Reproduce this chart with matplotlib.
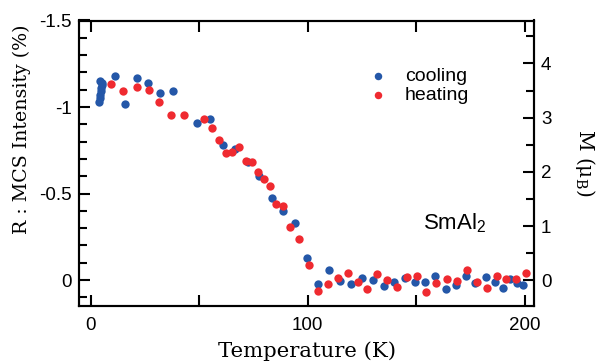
import matplotlib
matplotlib.use("Agg")
import matplotlib.pyplot as plt
from matplotlib.ticker import MultipleLocator

# ---- data ----
T_cool = [4.0, 4.2, 4.4, 4.6, 4.8, 5.0, 4.5, 5.2, 11.3, 15.9, 21.2, 26.5, 31.9, 38.1,
          49.1, 55.0, 60.8, 66.5, 72.6, 77.4, 83.4, 88.8, 94.3, 99.5,
          104.9, 110.0, 114.9, 119.8, 125.2, 130.0, 135.2, 139.9, 144.8, 149.4,
          154.0, 158.7, 163.6, 168.2, 172.9, 177.1, 182.0, 186.3, 190.1, 193.2,
          196.6, 199.4]
R_cool = [-1.03, -1.05, -1.07, -1.09, -1.11, -1.13, -1.15, -1.14, -1.18, -1.02, -1.17, -1.14, -1.08, -1.09,
          -0.91, -0.93, -0.78, -0.757, -0.68, -0.60, -0.476, -0.40, -0.33, -0.129,
          0.023, -0.058, 0.004, 0.023, -0.01, 0.0, 0.033, 0.013, -0.013, 0.01,
          0.01, -0.025, 0.054, 0.029, -0.023, 0.019, -0.019, 0.013, 0.048, -0.006,
          0.019, 0.029]

T_heat = [9.2, 15.0, 21.5, 27.0, 31.5, 37.0, 43.0, 52.4, 55.8, 59.1, 62.2, 65.3, 68.3,
          71.4, 74.5, 77.0, 80.0, 82.6, 85.4, 88.5, 91.8, 95.9, 100.7,
          104.9, 109.5, 113.8, 118.4, 123.0, 127.5, 132.1, 136.4, 141.0, 145.6,
          150.2, 154.5, 159.1, 164.0, 168.7, 173.3, 177.9, 182.5, 187.1, 191.4,
          196.0, 200.6]
R_heat = [-1.133, -1.094, -1.117, -1.098, -1.027, -0.954, -0.954, -0.93, -0.877, -0.81, -0.732, -0.738, -0.77,
          -0.69, -0.68, -0.626, -0.584, -0.545, -0.437, -0.428, -0.305, -0.237, -0.087,
          0.062, 0.025, -0.01, -0.039, 0.01, 0.054, -0.033, 0.0, 0.042, -0.015,
          -0.023, 0.067, 0.019, -0.006, 0.006, -0.058, 0.01, 0.048, -0.023, -0.006,
          -0.006, -0.039]

x_ticks = [0, 50, 100, 150, 200]
x_ticklabels = ["0", "", "100", "", "200"]
left_ticks = [-1.5, -1.0, -0.5, 0.0]
left_ticklabels = ["-1.5", "-1", "-0.5", "0"]
right_ticks = [0, 1, 2, 3, 4]
right_ticklabels = ["0", "1", "2", "3", "4"]

BLUE = "#2457a8"
RED = "#ef2a30"

plt.rcParams["mathtext.fontset"] = "custom"
plt.rcParams["mathtext.rm"] = "Liberation Sans"
plt.rcParams["mathtext.sf"] = "DejaVu Serif"

W, H = 598, 362
fig = plt.figure(figsize=(W / 100, H / 100), dpi=100)
L, R, B, Tp = 79, 534, 306, 20.5
ax = fig.add_axes([L / W, 1 - B / H, (R - L) / W, (B - Tp) / H])

ax.scatter(T_cool, R_cool, s=36, color=BLUE, linewidths=0, label="cooling", zorder=3)
ax.scatter(T_heat, R_heat, s=36, color=RED, linewidths=0, label="heating", zorder=4)

ax.set_xlim(-5.4, 204.3)
ax.set_ylim(0.15, -1.5)

tick_font = dict(family="Liberation Sans", size=13.5)
ax.set_xticks(x_ticks)
ax.set_xticklabels(x_ticklabels, fontdict=tick_font)
ax.set_yticks(left_ticks)
ax.set_yticklabels(left_ticklabels, fontdict=tick_font)
ax.yaxis.set_minor_locator(MultipleLocator(0.1))
ax.tick_params(axis="x", which="major", direction="in", top=True, bottom=True,
               length=8, width=1.5, pad=8)
ax.tick_params(axis="y", which="major", direction="in", left=True, right=False,
               length=8, width=1.5, pad=5)
ax.tick_params(axis="y", which="minor", direction="in", left=True, right=False,
               length=5.5, width=1.5)
for sp in ax.spines.values():
    sp.set_linewidth(1.5)

ax2 = ax.twinx()
ax2.set_ylim(-0.47, 4.79)
ax2.set_yticks(right_ticks)
ax2.set_yticklabels(right_ticklabels, fontdict=tick_font)
ax2.yaxis.set_minor_locator(MultipleLocator(0.5))
ax2.tick_params(axis="y", which="major", direction="in", length=8, width=1.5, pad=5)
ax2.tick_params(axis="y", which="minor", direction="in", length=5.5, width=1.5)
for sp in ax2.spines.values():
    sp.set_linewidth(1.5)

leg = ax.legend(loc="upper left", bbox_to_anchor=((370 - L) / (R - L), 1 - (67 - Tp) / (B - Tp)),
                frameon=False, prop=dict(family="Liberation Sans", size=14),
                handlelength=0.8, handletextpad=1.0, labelspacing=0.1,
                borderpad=0, borderaxespad=0, scatterpoints=1, markerscale=0.9)

ax.text((422.7 - L) / (R - L), 1 - (229 - Tp) / (B - Tp), r"SmAl$_{2}$",
        transform=ax.transAxes, family="Liberation Sans", fontsize=16,
        ha="left", va="baseline")

serif = "DejaVu Serif"
fig.text(307 / W, 1 - 351 / H, "Temperature (K)", family=serif, fontsize=15.3,
         ha="center", va="center")
fig.text(22 / W, 1 - 129 / H, "R : MCS Intensity (%)", family=serif, fontsize=13.7,
         ha="center", va="center", rotation=90)
fig.text(585 / W, 1 - 163 / H, r"M (μ$_{\mathsf{B}}$)", family=serif, fontsize=14.5,
         ha="center", va="center", rotation=-90)

fig.savefig("out.png", dpi=100)
